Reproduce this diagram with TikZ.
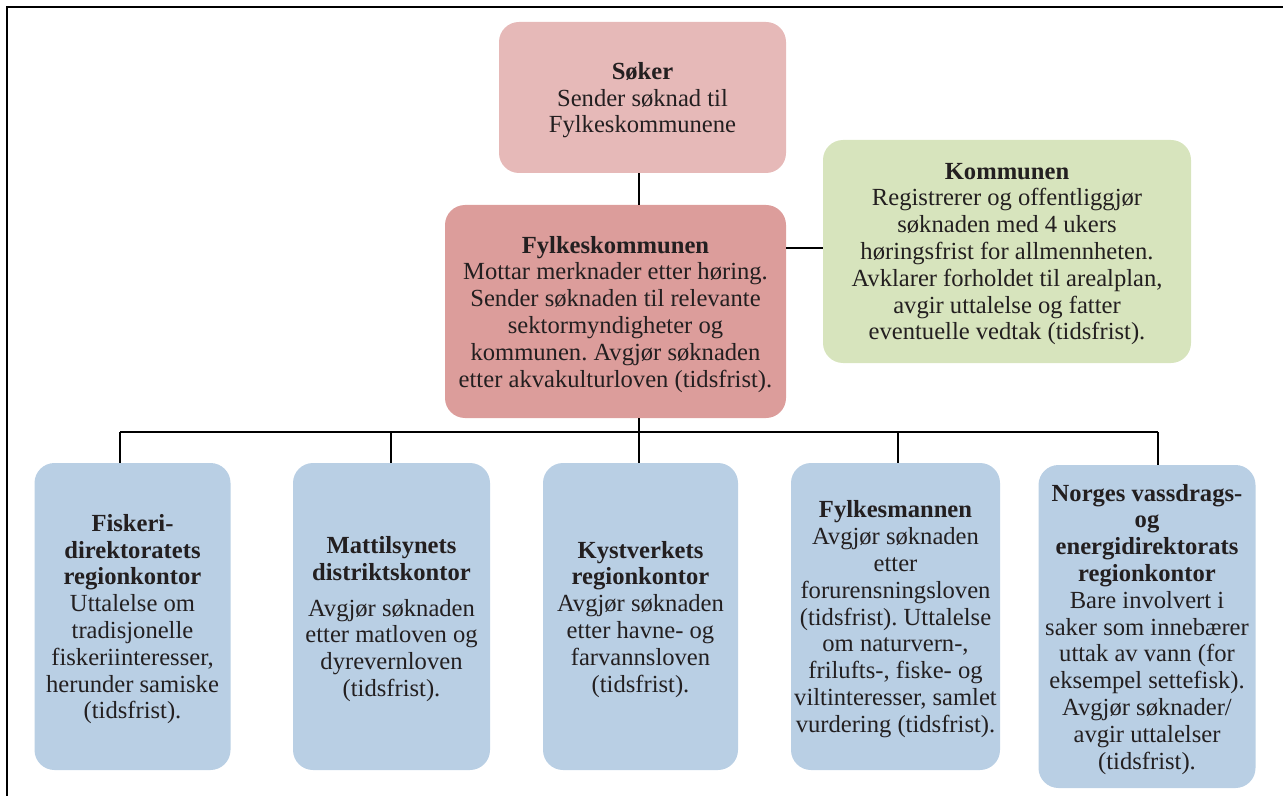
\documentclass[tikz,border=0pt]{standalone}
\usepackage{fontspec}
\setmainfont{Liberation Serif}
\frenchspacing
\definecolor{sokerpink}{HTML}{E6B9B8}
\definecolor{fylkespink}{HTML}{DC9D9B}
\definecolor{kommgreen}{HTML}{D7E4BD}
\definecolor{sektorblue}{HTML}{B9CFE4}
\definecolor{boxtext}{HTML}{231F20}
\begin{document}
\begin{tikzpicture}[x=0.5pt,y=-0.5pt,
    boks/.style={rounded corners=10pt,inner sep=0pt,align=center,text=boxtext,
      text depth=0pt,font=\fontsize{12.3}{13.4}\selectfont},
    sektor/.style={boks,fill=sektorblue,minimum height=153.5pt},
    linje/.style={line width=0.75pt}]
    \useasboundingbox (0,0) rectangle (1283,796);
    % ramme
    \draw[line width=1pt] (7,796) -- (7,7) -- (1283,7);
    \node[boks,fill=sokerpink,minimum width=143.5pt,minimum height=75.5pt] (soker) at (642.5,97.5)
        {\textbf{Søker}\\Sender søknad til\\Fylkeskommunene};
    \node[boks,fill=fylkespink,minimum width=170.5pt,minimum height=106.5pt] (fylkes) at (615.5,311.5)
        {\textbf{Fylkeskommunen}\\Mottar merknader etter høring.\\Sender søknaden til relevante\\sektormyndigheter og\\kommunen. Avgjør søknaden\\etter akvakulturloven (tidsfrist).};
    \node[boks,fill=kommgreen,minimum width=184pt,minimum height=111.5pt] (kommunen) at (1007,251.5)
        {\textbf{Kommunen}\\Registrerer og offentliggjør\\søknaden med 4 ukers\\høringsfrist for allmennheten.\\Avklarer forholdet til arealplan,\\avgir uttalelse og fatter\\eventuelle vedtak (tidsfrist).};
    \node[sektor,minimum width=98pt] (fiskeri) at (132.5,616.5)
        {\textbf{Fiskeri-}\\\textbf{direktoratets}\\\textbf{regionkontor}\\Uttalelse om\\tradisjonelle\\fiskeriinteresser,\\herunder samiske\\(tidsfrist).};
    \node[sektor,minimum width=98.5pt] (mattilsyn) at (391.5,616.5)
        {\textbf{Mattilsynets}\\\textbf{distriktskontor}\\[4.5pt]Avgjør søknaden\\etter matloven og\\dyrevernloven\\(tidsfrist).};
    \node[sektor,minimum width=97.5pt] (kystverk) at (640.5,616.5)
        {\textbf{Kystverkets}\\\textbf{regionkontor}\\Avgjør søknaden\\etter havne- og\\farvannsloven\\(tidsfrist).};
    \node[sektor,minimum width=104.5pt] (fylkesmann) at (895.5,616.5)
        {\textbf{Fylkesmannen}\\Avgjør søknaden\\etter\\forurensningsloven\\(tidsfrist). Uttalelse\\om naturvern-,\\frilufts-, fiske- og\\viltinteresser, samlet\\vurdering (tidsfrist).};
    \node[sektor,minimum width=108.5pt,minimum height=161.5pt] (nve) at (1147,626.5)
        {\textbf{Norges vassdrags-}\\\textbf{og}\\\textbf{energidirektorats}\\\textbf{regionkontor}\\Bare involvert i\\saker som innebærer\\uttak av vann (for\\eksempel settefisk).\\Avgjør søknader/\\avgir uttalelser\\(tidsfrist).};
    % samleskinne
    \coordinate (t1) at (120,432);
    \coordinate (t2) at (391,432);
    \coordinate (t3) at (639,432);
    \coordinate (t4) at (898,432);
    \coordinate (t5) at (1158,432);
    \draw[linje] (soker.south -| t3) -- (fylkes.north -| t3);
    \draw[linje] (fylkes.south -| t3) -- (t3);
    \draw[linje] (fylkes.east |- 0,248) -- (kommunen.west |- 0,248);
    \draw[linje] (t1) -- (t5);
    \draw[linje] (t1) -- (t1 |- fiskeri.north);
    \draw[linje] (t2) -- (t2 |- mattilsyn.north);
    \draw[linje] (t3) -- (t3 |- kystverk.north);
    \draw[linje] (t4) -- (t4 |- fylkesmann.north);
    \draw[linje] (t5) -- (t5 |- nve.north);
\end{tikzpicture}
\end{document}
